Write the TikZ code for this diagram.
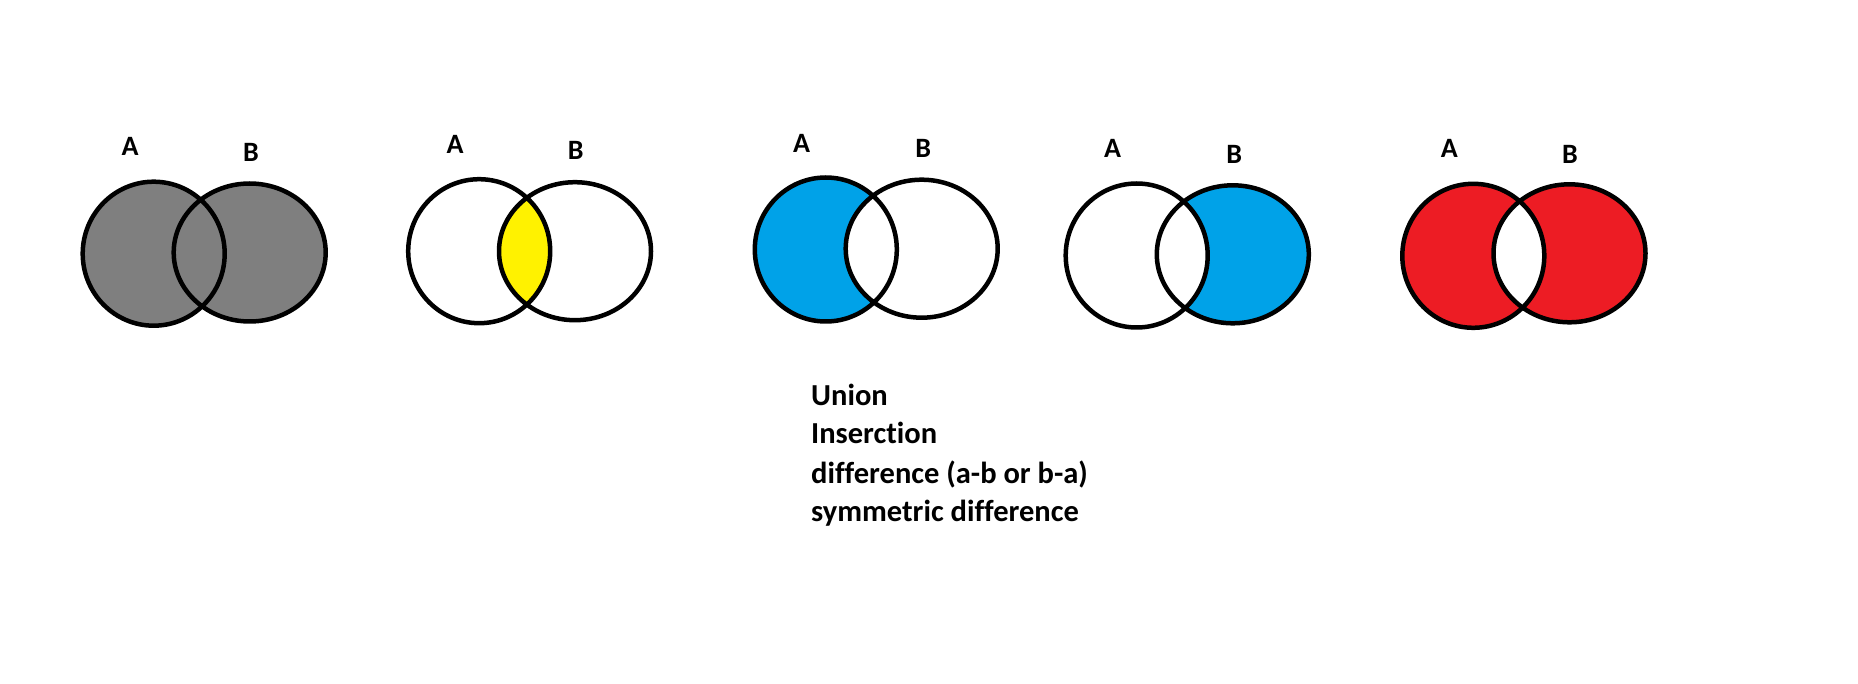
\documentclass[tikz,border=0pt]{standalone}
\usepackage{fontspec}
\setmainfont{Carlito}[Ligatures=NoCommon]
\definecolor{pgray}{RGB}{127,127,127}
\definecolor{pyellow}{RGB}{255,242,0}
\definecolor{pblue}{RGB}{0,162,232}
\definecolor{pred}{RGB}{237,28,36}
\begin{document}
\begin{tikzpicture}[x=1pt,y=-1pt,
  outline/.style={draw=black,line width=4.5pt},
  aell/.style={x radius=71,y radius=72},
  bell/.style={x radius=76,y radius=69},
  setlabel/.style={font=\bfseries\fontsize{28}{28}\selectfont,anchor=base,inner sep=0pt},
  captionline/.style={font=\bfseries\fontsize{30.5}{30.5}\selectfont,anchor=base west,inner sep=0pt}]
\useasboundingbox[fill=white] (0,0) rectangle (1858,684);
% centres
\coordinate (A1) at (153.7,253.7);  \coordinate (B1) at (249.7,252.5);
\coordinate (A2) at (479.2,251.2);  \coordinate (B2) at (575,251.2);
\coordinate (A3) at (825.8,249.5);  \coordinate (B3) at (921.7,248.7);
\coordinate (A4) at (1136.7,255.5); \coordinate (B4) at (1232.8,254.3);
\coordinate (A5) at (1473.3,255.8); \coordinate (B5) at (1569.5,253.3);
% fills
\fill[pgray] (A1) ellipse[aell] (B1) ellipse[bell];
\begin{scope}
  \clip (A2) ellipse[aell];
  \fill[pyellow] (B2) ellipse[bell];
\end{scope}
\begin{scope}
  \clip (A3) ellipse[aell];
  \fill[pblue,even odd rule] (A3) ellipse[aell] (B3) ellipse[bell];
\end{scope}
\begin{scope}
  \clip (B4) ellipse[bell];
  \fill[pblue,even odd rule] (A4) ellipse[aell] (B4) ellipse[bell];
\end{scope}
\fill[pred,even odd rule] (A5) ellipse[aell] (B5) ellipse[bell];
% outlines
\foreach \i in {1,...,5}{
  \draw[outline] (A\i) ellipse[aell] (B\i) ellipse[bell];
}
% labels
\node[setlabel] (la1) at (130,156) {A};
\node[setlabel] (lb1) at (251,161.7) {B};
\node[setlabel] (la2) at (455,154) {A};
\node[setlabel] (lb2) at (575.7,159.3) {B};
\node[setlabel] (la3) at (801.7,152.3) {A};
\node[setlabel] (lb3) at (923.3,157.3) {B};
\node[setlabel] (la4) at (1112.7,157.7) {A};
\node[setlabel] (lb4) at (1234.3,163.3) {B};
\node[setlabel] (la5) at (1449.3,157.3) {A};
\node[setlabel] (lb5) at (1570,163.3) {B};
% caption
\node[captionline] (t1) at (811,406) {Union};
\node[captionline] (t2) at (811,443.5) {Inserction};
\node[captionline] (t3) at (811,483.3) {difference (a-b or b-a)};
\begin{scope}
  \clip (700,490) rectangle (1200,525.5);
  \node[captionline] (t4) at (811,521.7) {symmetric difference};
\end{scope}
\end{tikzpicture}
\end{document}
